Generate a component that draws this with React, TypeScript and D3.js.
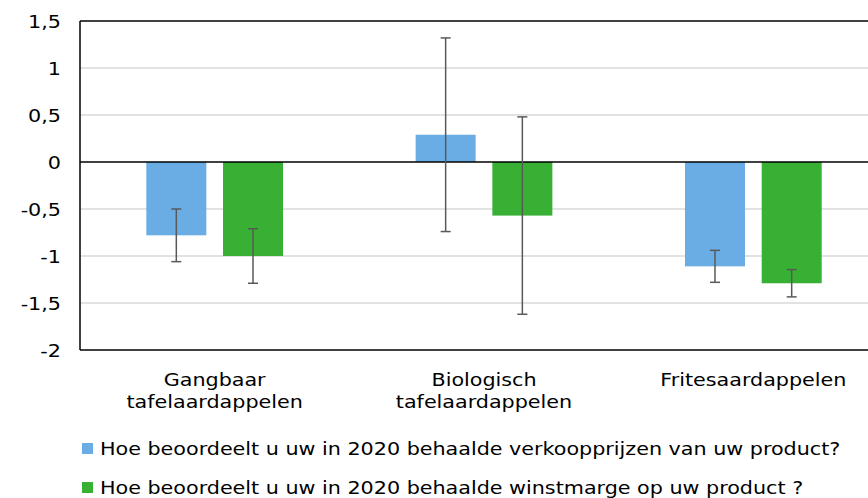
import * as d3 from 'd3'
import React from 'react'

const categories = ['Gangbaar tafelaardappelen', 'Biologisch tafelaardappelen', 'Fritesaardappelen']
const categoryLines = [['Gangbaar', 'tafelaardappelen'], ['Biologisch', 'tafelaardappelen'], ['Fritesaardappelen']]
const seriesNames = [
    'Hoe beoordeelt u uw in 2020 behaalde verkoopprijzen van uw product?',
    'Hoe beoordeelt u uw in 2020 behaalde winstmarge op uw product ?',
]
const prijsValues = [-0.78, 0.29, -1.11]
const prijsErrors = [0.28, 1.03, 0.17]
const margeValues = [-1.0, -0.57, -1.29]
const margeErrors = [0.29, 1.05, 0.145]
const yTicks = [1.5, 1, 0.5, 0, -0.5, -1, -1.5, -2]

const colors = ['#6aade4', '#37b034']

const W = 868
const H = 498
const margin = { top: 21, left: 80, right: -20, bottom: 148 }
const font = "'DejaVu Sans', Verdana, sans-serif"
const fontSize = 18
const stretch = 1.15 // text in the reference is drawn a bit wide

const fmt = (v: number) => String(v).replace('.', ',')

// text with horizontal stretch
const Label: React.FC<{ x: number; y: number; anchor?: string; children: React.ReactNode }> = ({
    x,
    y,
    anchor = 'start',
    children,
}) => (
    <g transform={`translate(${x},${y}) scale(${stretch},1)`}>
        <text x={0} y={0} textAnchor={anchor} fontSize={fontSize} fill="#000">
            {children}
        </text>
    </g>
)

export default function App() {
    const values = [prijsValues, margeValues]
    const errors = [prijsErrors, margeErrors]

    const y = d3.scaleLinear().domain([-2, 1.5]).range([H - margin.bottom, margin.top])
    const x0 = d3.scaleBand().domain(categories).range([margin.left, W - margin.right]).padding(0)
    const barW = 60
    const gap = 16.7
    const x1 = d3
        .scaleBand()
        .domain(['0', '1'])
        .range([-(barW + gap / 2), barW + gap / 2])
        .paddingInner(gap / (barW + gap))
        .paddingOuter(0)

    const xRight = W - margin.right

    return (
        <svg
            width={W}
            height={H}
            style={{ position: 'absolute', left: 0, top: 0, background: '#fff' }}
            fontFamily={font}
        >
            {/* gridlines */}
            {yTicks
                .filter((t) => t !== 0 && t !== 1.5 && t !== -2)
                .map((t) => (
                    <line key={t} x1={margin.left} x2={xRight} y1={y(t)} y2={y(t)} stroke="#d9d9d9" strokeWidth={1.5} />
                ))}

            {/* bars */}
            {values.map((vals, si) =>
                vals.map((v, ci) => {
                    const cx = (x0(categories[ci]) || 0) + x0.bandwidth() / 2
                    const bx = cx + (x1(String(si)) || 0)
                    return (
                        <rect
                            key={`${si}-${ci}`}
                            x={bx}
                            y={Math.min(y(v), y(0))}
                            width={x1.bandwidth()}
                            height={Math.abs(y(v) - y(0))}
                            fill={colors[si]}
                        />
                    )
                })
            )}

            {/* frame and zero line */}
            <line x1={margin.left} x2={xRight} y1={y(1.5)} y2={y(1.5)} stroke="#000" strokeWidth={1.5} />
            <line x1={margin.left} x2={xRight} y1={y(-2)} y2={y(-2)} stroke="#000" strokeWidth={1.5} />
            <line x1={margin.left} x2={xRight} y1={y(0)} y2={y(0)} stroke="#000" strokeWidth={1.5} />
            <line x1={margin.left} x2={margin.left} y1={y(1.5)} y2={y(-2)} stroke="#000" strokeWidth={1.5} />

            {/* error bars */}
            {values.map((vals, si) =>
                vals.map((v, ci) => {
                    const cx = (x0(categories[ci]) || 0) + x0.bandwidth() / 2
                    const ex = cx + (x1(String(si)) || 0) + x1.bandwidth() / 2
                    const e = errors[si][ci]
                    return (
                        <g key={`e${si}-${ci}`} stroke="#595959" strokeWidth={1.5}>
                            <line x1={ex} x2={ex} y1={y(v + e)} y2={y(v - e)} />
                            <line x1={ex - 5} x2={ex + 5} y1={y(v + e)} y2={y(v + e)} />
                            <line x1={ex - 5} x2={ex + 5} y1={y(v - e)} y2={y(v - e)} />
                        </g>
                    )
                })
            )}

            {/* y tick labels */}
            {yTicks.map((t) => (
                <Label key={t} x={61} y={y(t) + 7} anchor="end">
                    {fmt(t)}
                </Label>
            ))}

            {/* category labels */}
            {categories.map((c, ci) => {
                const cx = (x0(c) || 0) + x0.bandwidth() / 2
                return categoryLines[ci].map((l, li) => (
                    <Label key={`${c}-${li}`} x={cx} y={386 + li * 22} anchor="middle">
                        {l}
                    </Label>
                ))
            })}

            {/* legend */}
            {seriesNames.map((s, si) => (
                <g key={s}>
                    <rect x={82} y={443 + si * 39} width={11} height={11} fill={colors[si]} />
                    <Label x={100} y={455 + si * 39}>
                        {s}
                    </Label>
                </g>
            ))}
        </svg>
    )
}
